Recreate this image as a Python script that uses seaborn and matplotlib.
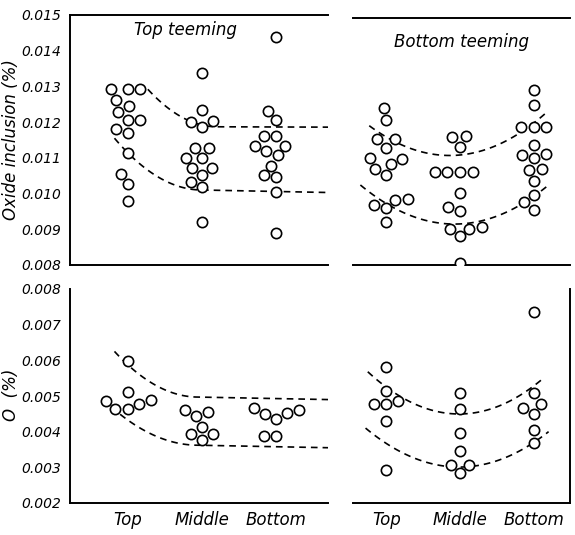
import numpy as np
import pandas as pd
import matplotlib
matplotlib.use("Agg")
import matplotlib.pyplot as plt
import seaborn as sns

sns.set_theme(style="white")
plt.rcParams['font.family'] = ['DejaVu Sans']
plt.rcParams['font.style'] = 'italic'
plt.rcParams['text.color'] = 'black'

categories = ["Top", "Middle", "Bottom"]

# Oxide inclusion (%), top teeming
oxide_top_top = [0.01292, 0.01292, 0.01292, 0.01262, 0.01245, 0.01229, 0.01207,
                 0.01207, 0.01180, 0.01170, 0.01115, 0.01056, 0.01028, 0.00979]
oxide_top_middle = [0.01337, 0.01234, 0.01203, 0.01201, 0.01186, 0.01127, 0.01127,
                    0.01101, 0.01099, 0.01073, 0.01071, 0.01052, 0.01032, 0.01018, 0.00920]
oxide_top_bottom = [0.01439, 0.01232, 0.01207, 0.01161, 0.01161, 0.01134, 0.01134,
                    0.01120, 0.01107, 0.01078, 0.01051, 0.01047, 0.01005, 0.00890]
# Oxide inclusion (%), bottom teeming
oxide_bot_top = [0.01239, 0.01206, 0.01152, 0.01152, 0.01129, 0.01099, 0.01096,
                 0.01083, 0.01069, 0.01052, 0.00984, 0.00982, 0.00968, 0.00959, 0.00919]
oxide_bot_middle = [0.01161, 0.01157, 0.01131, 0.01061, 0.01061, 0.01061, 0.01061,
                    0.01001, 0.00963, 0.00952, 0.00902, 0.00905, 0.00900, 0.00880, 0.00805]
oxide_bot_bottom = [0.01290, 0.01248, 0.01186, 0.01186, 0.01186, 0.01135, 0.01110,
                    0.01108, 0.01100, 0.01068, 0.01066, 0.01035, 0.00996, 0.00975, 0.00955]
# O (%), top teeming
o_top_top = [0.00599, 0.00510, 0.00488, 0.00486, 0.00478, 0.00463, 0.00463]
o_top_middle = [0.00460, 0.00454, 0.00444, 0.00414, 0.00393, 0.00393, 0.00376]
o_top_bottom = [0.00465, 0.00460, 0.00452, 0.00450, 0.00435, 0.00388, 0.00388]
# O (%), bottom teeming
o_bot_top = [0.00582, 0.00514, 0.00487, 0.00478, 0.00477, 0.00430, 0.00292]
o_bot_middle = [0.00509, 0.00463, 0.00397, 0.00346, 0.00306, 0.00306, 0.00284]
o_bot_bottom = [0.00735, 0.00509, 0.00477, 0.00467, 0.00449, 0.00406, 0.00367]

# Envelope knots (category units, value)
# decaying envelopes: (start x, start y, flat-from x, flat y, end x, end y)
env_oxide_top_upper = [0.27, 0.01292, 1.2, 0.01187, 2.7, 0.01186]
env_oxide_top_lower = [-0.18, 0.01155, 1.0, 0.01010, 2.7, 0.01003]
env_o_top_upper = [-0.18, 0.00625, 0.95, 0.00497, 2.7, 0.00490]
env_o_top_lower = [-0.34, 0.00492, 0.95, 0.00362, 2.7, 0.00355]
# U-shaped envelopes: three knots x, y
env_oxide_bot_upper_x = [-0.23, 1.0, 2.16]
env_oxide_bot_upper_y = [0.01190, 0.01108, 0.01225]
env_oxide_bot_lower_x = [-0.35, 1.0, 2.2]
env_oxide_bot_lower_y = [0.01024, 0.00915, 0.01024]
env_o_bot_upper_x = [-0.25, 1.2, 2.13]
env_o_bot_upper_y = [0.00568, 0.00453, 0.00550]
env_o_bot_lower_x = [-0.28, 1.05, 2.2]
env_o_bot_lower_y = [0.00410, 0.00301, 0.00400]


def make_df(cols):
    rows = []
    for i, vals in enumerate(cols):
        for v in vals:
            rows.append({"pos": i, "val": v})
    return pd.DataFrame(rows)


def decay_curve(k):
    x0, y0, xf, yf, x1, y1 = k
    xa = np.linspace(x0, xf, 40)
    ya = yf + (y0 - yf) * ((xf - xa) / (xf - x0)) ** 2
    xb = np.linspace(xf, x1, 20)
    yb = yf + (y1 - yf) * (xb - xf) / (x1 - xf)
    return np.concatenate([xa, xb[1:]]), np.concatenate([ya, yb[1:]])


def u_curve(kx, ky):
    c = np.polyfit(kx, ky, 2)
    xs = np.linspace(kx[0], kx[-1], 60)
    return xs, np.polyval(c, xs)


W, H = 575, 535
fig = plt.figure(figsize=(W / 100, H / 100), dpi=100)
fig.patch.set_facecolor("white")


def axes_px(l, t, r, b):
    return fig.add_axes([l / W, 1 - b / H, (r - l) / W, (b - t) / H])


ax_tl = axes_px(70, 15, 328, 265)
ax_tr = axes_px(353, 18, 570, 265)
ax_bl = axes_px(70, 289, 328, 503)
ax_br = axes_px(353, 289, 570, 503)

panels = [
    (ax_tl, [oxide_top_top, oxide_top_middle, oxide_top_bottom],
     [decay_curve(env_oxide_top_upper), decay_curve(env_oxide_top_lower)]),
    (ax_tr, [oxide_bot_top, oxide_bot_middle, oxide_bot_bottom],
     [u_curve(env_oxide_bot_upper_x, env_oxide_bot_upper_y),
      u_curve(env_oxide_bot_lower_x, env_oxide_bot_lower_y)]),
    (ax_bl, [o_top_top, o_top_middle, o_top_bottom],
     [decay_curve(env_o_top_upper), decay_curve(env_o_top_lower)]),
    (ax_br, [o_bot_top, o_bot_middle, o_bot_bottom],
     [u_curve(env_o_bot_upper_x, env_o_bot_upper_y),
      u_curve(env_o_bot_lower_x, env_o_bot_lower_y)]),
]

for ax, cols, curves in panels:
    ax.set_facecolor("white")
    for xs, ys in curves:
        sns.lineplot(x=xs, y=ys, ax=ax, color="black", linewidth=1.2,
                     linestyle=(0, (4, 3)), sort=False, zorder=1)
    df = make_df(cols)
    sns.swarmplot(data=df, x="pos", y="val", native_scale=True, ax=ax,
                  size=7.4, color="white", edgecolor="black", linewidth=1.2,
                  zorder=3, warn_thresh=1.0)
    ax.set_xlabel("")
    ax.set_ylabel("")

for ax in (ax_tl, ax_bl):
    ax.set_xlim(-0.78, 2.7)
for ax in (ax_tr, ax_br):
    ax.set_xlim(-0.45, 2.49)
ax_tl.set_ylim(0.008, 0.015)
ax_tr.set_ylim(0.008, 0.015 - 0.003 * 3 / 250 * 0.7 * 0)  # same scale as left
ax_tr.set_ylim(0.008, 0.008 + 0.007 * (247 / 250))
for ax in (ax_bl, ax_br):
    ax.set_ylim(0.002, 0.008)

ax_tl.set_yticks(np.arange(0.008, 0.0151, 0.001))
ax_tl.set_yticklabels(["0.008", "0.009", "0.010", "0.011", "0.012", "0.013", "0.014", "0.015"])
ax_bl.set_yticks(np.arange(0.002, 0.0081, 0.001))
ax_bl.set_yticklabels(["0.002", "0.003", "0.004", "0.005", "0.006", "0.007", "0.008"])
for ax in (ax_tr, ax_br):
    ax.set_yticks([])

for ax in (ax_tl, ax_tr, ax_bl, ax_br):
    ax.set_xticks([0, 1, 2])
    ax.tick_params(axis="both", direction="in", length=9, width=1.2,
                   color="black", labelsize=10, labelcolor="black", pad=4)
    ax.tick_params(axis="y", length=7, pad=6)
    for s in ax.spines.values():
        s.set_color("black")
        s.set_linewidth(1.4)
for ax in (ax_tl, ax_tr):
    ax.set_xticklabels([])
for ax in (ax_bl, ax_br):
    ax.set_xticklabels(categories, fontsize=12)
    ax.tick_params(axis="x", pad=6)

ax_tl.spines["right"].set_visible(False)
ax_tr.spines["left"].set_visible(False)
ax_tr.spines["right"].set_visible(False)
ax_bl.spines["right"].set_visible(False)
ax_bl.spines["top"].set_visible(False)
ax_br.spines["left"].set_visible(False)
ax_br.spines["top"].set_visible(False)

fig.text(185 / W, 1 - 30 / H, "Top teeming", ha="center", va="center", fontsize=12)
fig.text(462 / W, 1 - 42 / H, "Bottom teeming", ha="center", va="center", fontsize=12)
fig.text(11 / W, 1 - 140 / H, "Oxide inclusion (%)", ha="center", va="center",
         rotation=90, fontsize=12)
fig.text(11 / W, 1 - 395 / H, "O  (%)", ha="center", va="center",
         rotation=90, fontsize=12)

fig.savefig("out.png", dpi=100, facecolor="white")
